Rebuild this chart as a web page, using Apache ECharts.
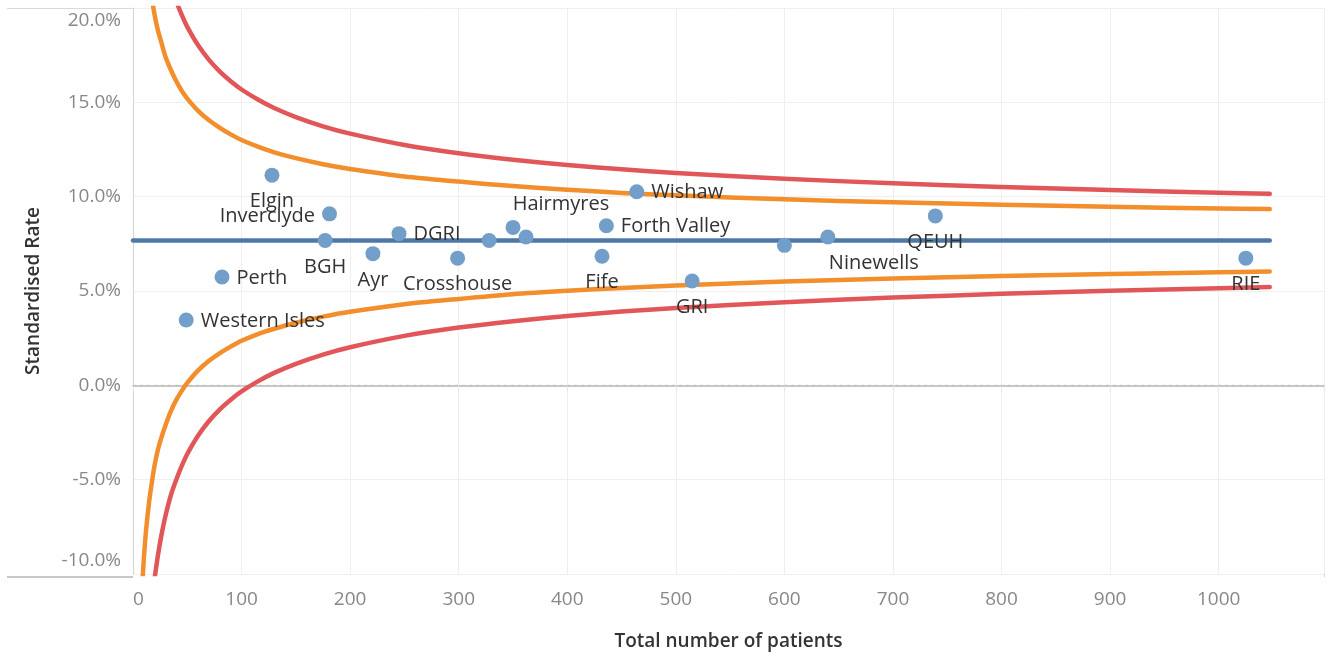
<!DOCTYPE html>
<html>
<head>
<meta charset="utf-8">
<script src="https://cdn.jsdelivr.net/npm/echarts@6/dist/echarts.min.js"></script>
<style>
html,body{margin:0;padding:0;background:#fff;}
#chart{width:1330px;height:656px;}
</style>
</head>
<body>
<div id="chart"></div>
<script>
// ---- data ----
const hospitals = ['Western Isles','Perth','Elgin','BGH','Inverclyde','Ayr','DGRI','Crosshouse','','Hairmyres','','Fife','Forth Valley','Wishaw','GRI','','Ninewells','QEUH','RIE'];
const patients  = [49, 82, 128, 177, 181, 221, 245, 299, 328, 350, 362, 432, 436, 464, 515, 600, 640, 739, 1025];
const rates     = [3.46, 5.74, 11.14, 7.68, 9.09, 6.98, 8.04, 6.74, 7.68, 8.37, 7.86, 6.84, 8.46, 10.26, 5.53, 7.42, 7.86, 8.98, 6.74];

const meanRate = 7.68;
const meanRange = [0, 1047];

const limitN   = [5, 8, 10, 12, 15, 18, 20, 23, 26, 30, 35, 40, 45, 50, 60, 70, 80, 90, 100, 115, 130, 150, 175, 200, 250, 300, 350, 400, 450, 500, 600, 700, 800, 900, 1000, 1047];
const upper95  = [31.6, 26.6, 24.6, 23.1, 21.5, 20.3, 19.6, 18.8, 18.2, 17.4, 16.7, 16.1, 15.6, 15.2, 14.55, 14.05, 13.65, 13.3, 13.0, 12.65, 12.35, 12.04, 11.72, 11.47, 11.07, 10.8, 10.56, 10.37, 10.2, 10.07, 9.86, 9.7, 9.57, 9.46, 9.37, 9.34];
const lower95  = [-16.2, -11.2, -9.2, -7.7, -6.1, -4.9, -4.2, -3.4, -2.8, -2.1, -1.35, -0.76, -0.28, 0.13, 0.79, 1.3, 1.71, 2.05, 2.36, 2.72, 3.0, 3.32, 3.64, 3.9, 4.3, 4.58, 4.83, 5.01, 5.16, 5.29, 5.5, 5.66, 5.79, 5.9, 5.99, 6.03];
const upper998 = [43.5, 36.0, 33.0, 30.8, 28.4, 26.6, 25.6, 24.4, 23.4, 22.3, 21.2, 20.34, 19.62, 19.0, 18.02, 17.25, 16.63, 16.12, 15.68, 15.15, 14.7, 14.22, 13.73, 13.34, 12.74, 12.3, 11.96, 11.68, 11.45, 11.26, 10.95, 10.71, 10.51, 10.35, 10.21, 10.15];
const lower998 = [-28.1, -20.6, -17.6, -15.4, -13.0, -11.2, -10.2, -9.0, -8.0, -6.9, -5.8, -4.98, -4.26, -3.64, -2.66, -1.89, -1.27, -0.76, -0.32, 0.21, 0.66, 1.14, 1.63, 2.02, 2.62, 3.06, 3.4, 3.68, 3.91, 4.1, 4.41, 4.65, 4.85, 5.01, 5.15, 5.21];

// label placement (layout only)
const labelPlace = ['right','right','bottom','bottom','left','bottom','right','bottom','','topright','','bottom','right','right','bottom','','bottomright','bottom','bottom'];

// ---- build ----
const FONT = '"Open Sans", "Noto Sans", sans-serif';
const placeStyle = {
  right:       {position:'right', distance:7, offset:[0,1]},
  left:        {position:'left', distance:7, offset:[0,2]},
  bottom:      {position:'bottom', distance:9, offset:[0,0]},
  topright:    {position:'top', distance:6, offset:[48,0]},
  bottomright: {position:'bottom', distance:9, offset:[46,0]}
};

const pointData = patients.map((n, i) => {
  const item = {value:[n, rates[i]], name:hospitals[i]};
  const p = labelPlace[i];
  if (p && hospitals[i]) {
    item.label = Object.assign({show:true}, placeStyle[p]);
  } else {
    item.label = {show:false};
  }
  return item;
});

const zip = (xs, ys) => xs.map((x, i) => [x, ys[i]]);

const lineSeries = (name, data, color) => ({
  name, type:'line', data, smooth:0.3, showSymbol:false, symbol:'none',
  clip:true, silent:true,
  lineStyle:{color, width:4.5, cap:'round', join:'round'},
  z:2
});

const chart = echarts.init(document.getElementById('chart'), null, {renderer:'canvas'});
chart.setOption({
  animation:false,
  backgroundColor:'#ffffff',
  textStyle:{fontFamily:FONT},
  grid:{left:133, right:6, top:8, bottom:79, containLabel:false},
  xAxis:{
    type:'value', min:0, max:1097, interval:100,
    name:'Total number of patients', nameLocation:'middle', nameGap:58,
    nameTextStyle:{fontFamily:FONT, fontSize:19, color:'#333', fontWeight:600},
    axisLine:{show:true, lineStyle:{color:'#c8c8c8', width:2}},
    axisTick:{show:true, length:6, lineStyle:{color:'#e6e6e6'}},
    axisLabel:{fontFamily:FONT, fontSize:19, color:'#888', margin:16, alignMinLabel:'left',
      formatter:v => (v % 100 === 0 ? String(v) : '')},
    splitLine:{show:true, lineStyle:{color:'#efefef', width:1}}
  },
  yAxis:{
    type:'value', min:-10, max:20, interval:5,
    name:'Standardised Rate', nameLocation:'middle', nameGap:90,
    nameTextStyle:{fontFamily:FONT, fontSize:19, color:'#333', fontWeight:600},
    axisLine:{show:true, lineStyle:{color:'#d4d4d4', width:1}},
    axisTick:{show:false},
    axisLabel:{fontFamily:FONT, fontSize:19, color:'#888', margin:12, lineHeight:26,
      verticalAlignMaxLabel:'top', verticalAlignMinLabel:'bottom',
      formatter:v => v.toFixed(1) + '%'},
    splitLine:{show:true, lineStyle:{color:'#efefef', width:1}}
  },
  graphic:[
    {type:'line', shape:{x1:7, y1:8.5, x2:1324, y2:8.5}, style:{stroke:'#d9d9d9', lineWidth:1}, silent:true, z:0},
    {type:'line', shape:{x1:7, y1:577, x2:133, y2:577}, style:{stroke:'#c8c8c8', lineWidth:2}, silent:true, z:0},
    {type:'line', shape:{x1:1324.5, y1:8, x2:1324.5, y2:577}, style:{stroke:'#d4d4d4', lineWidth:1}, silent:true, z:0}
  ],
  series:[
    {
      name:'zero', type:'line', data:[[0,0],[1097,0]], showSymbol:false, symbol:'none', silent:true,
      lineStyle:{color:'#bfbfbf', width:1, type:[3,4]}, z:1
    },
    lineSeries('Upper 99.8%', zip(limitN, upper998), '#E15759'),
    lineSeries('Lower 99.8%', zip(limitN, lower998), '#E15759'),
    lineSeries('Upper 95%', zip(limitN, upper95), '#F28E2B'),
    lineSeries('Lower 95%', zip(limitN, lower95), '#F28E2B'),
    {
      name:'Mean', type:'line', data:meanRange.map(n => [n, meanRate]), showSymbol:false, symbol:'none', silent:true,
      lineStyle:{color:'#4E79A7', width:4.5, cap:'round'}, z:3
    },
    {
      name:'Hospitals', type:'scatter', data:pointData, symbol:'circle', symbolSize:15,
      itemStyle:{color:'#729FC9', opacity:1},
      label:{show:true, formatter:'{b}', fontFamily:FONT, fontSize:20, color:'#333'},
      z:5
    }
  ]
});
</script>
</body>
</html>
